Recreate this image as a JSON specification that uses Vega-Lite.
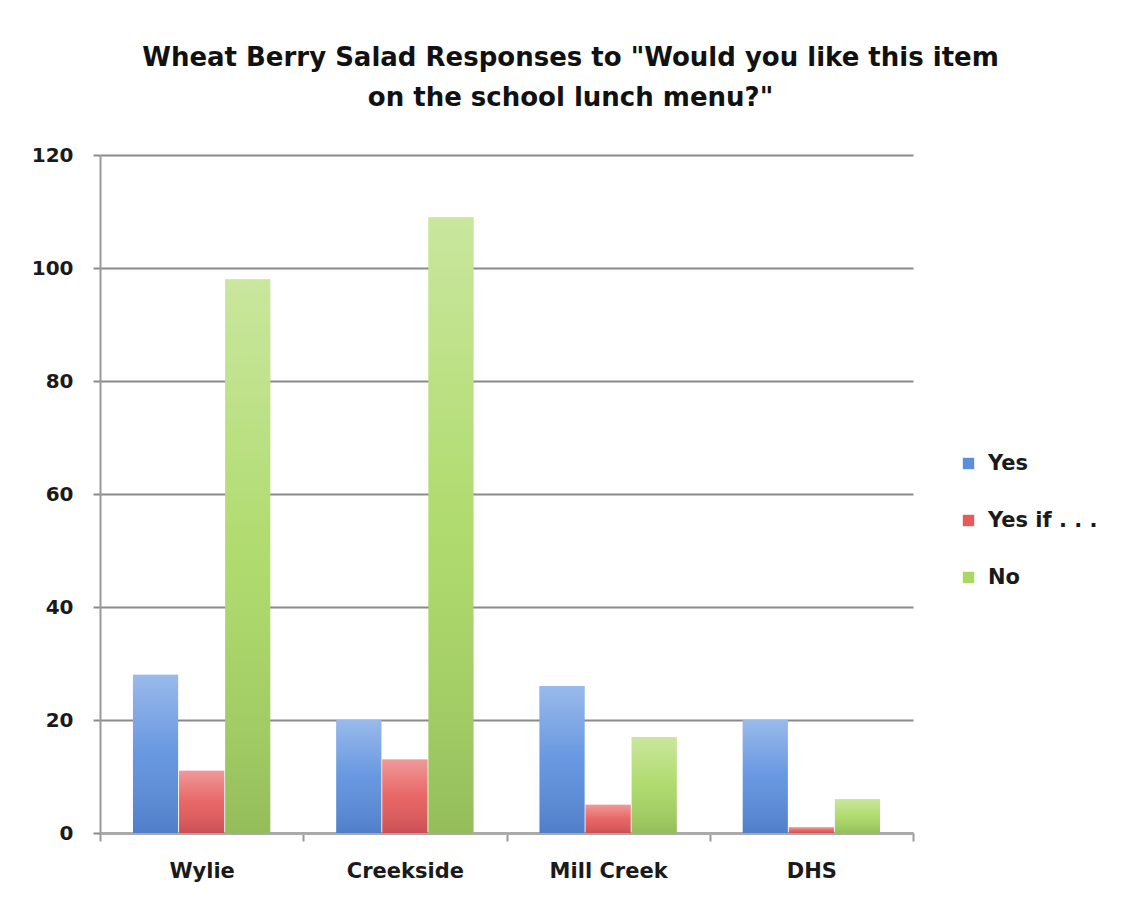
{
  "$schema": "https://vega.github.io/schema/vega-lite/v6.json",
  "width": 813,
  "height": 678,
  "autosize": {"type": "none"},
  "padding": {"left": 100, "top": 155, "right": 217, "bottom": 70},
  "background": "white",
  "title": {
    "text": ["Wheat Berry Salad Responses to \"Would you like this item", "on the school lunch menu?\""],
    "anchor": "middle",
    "dx": 64,
    "offset": 34,
    "font": "DejaVu Sans",
    "fontSize": 26,
    "fontWeight": "bold",
    "color": "#111111",
    "lineHeight": 40
  },
  "data": {
    "values": [
      {"school": "Wylie", "response": "Yes", "count": 28},
      {"school": "Wylie", "response": "Yes if . . .", "count": 11},
      {"school": "Wylie", "response": "No", "count": 98},
      {"school": "Creekside", "response": "Yes", "count": 20},
      {"school": "Creekside", "response": "Yes if . . .", "count": 13},
      {"school": "Creekside", "response": "No", "count": 109},
      {"school": "Mill Creek", "response": "Yes", "count": 26},
      {"school": "Mill Creek", "response": "Yes if . . .", "count": 5},
      {"school": "Mill Creek", "response": "No", "count": 17},
      {"school": "DHS", "response": "Yes", "count": 20},
      {"school": "DHS", "response": "Yes if . . .", "count": 1},
      {"school": "DHS", "response": "No", "count": 6}
    ]
  },
  "encoding": {
    "x": {
      "field": "school",
      "type": "nominal",
      "sort": ["Wylie", "Creekside", "Mill Creek", "DHS"],
      "title": null,
      "scale": {"paddingInner": 0, "paddingOuter": 0},
      "axis": {
        "labelAngle": 0,
        "labelFont": "DejaVu Sans",
        "labelFontSize": 21,
        "labelFontWeight": "bold",
        "labelColor": "#1a1a1a",
        "labelPadding": 19,
        "tickBand": "extent",
        "ticks": true,
        "tickSize": 8,
        "tickColor": "#999999",
        "tickWidth": 2,
        "domainColor": "#aaaaaa",
        "domainWidth": 3,
        "grid": false
      }
    },
    "xOffset": {
      "field": "response",
      "type": "nominal",
      "sort": ["Yes", "Yes if . . .", "No"],
      "scale": {"domain": ["Yes", "Yes if . . .", "No"], "paddingInner": 0.02, "paddingOuter": 0.715}
    },
    "y": {
      "field": "count",
      "type": "quantitative",
      "title": null,
      "scale": {"domain": [0, 120], "nice": false},
      "axis": {
        "values": [0, 20, 40, 60, 80, 100, 120],
        "labelFont": "DejaVu Sans",
        "labelFontSize": 20,
        "labelFontWeight": "bold",
        "labelColor": "#1a1a1a",
        "labelPadding": 20,
        "tickSize": 7,
        "tickColor": "#8a8a8a",
        "tickWidth": 2,
        "domainColor": "#999999",
        "domainWidth": 2,
        "grid": true,
        "gridColor": "#8a8a8a",
        "gridWidth": 2,
        "gridOpacity": 1
      }
    }
  },
  "layer": [
    {
      "mark": {"type": "bar"},
      "encoding": {
        "color": {
          "field": "response",
          "type": "nominal",
          "scale": {"domain": ["Yes", "Yes if . . .", "No"], "range": ["#5b8fde", "#e65a5a", "#a9d862"]},
          "legend": {
            "title": null,
            "orient": "none",
            "legendX": 858,
            "legendY": 298,
            "symbolType": "square",
            "symbolSize": 130,
            "symbolStrokeWidth": 0,
            "labelFont": "DejaVu Sans",
            "labelFontSize": 21,
            "labelFontWeight": "bold",
            "labelColor": "#1a1a1a",
            "labelOffset": 9,
            "rowPadding": 35
          }
        }
      }
    },
    {
      "mark": {
        "type": "bar",
        "fill": {
          "gradient": "linear",
          "x1": 0, "y1": 0, "x2": 0, "y2": 1,
          "stops": [
            {"offset": 0, "color": "rgba(255,255,255,0.38)"},
            {"offset": 0.5, "color": "rgba(255,255,255,0.08)"},
            {"offset": 1, "color": "rgba(0,0,40,0.12)"}
          ]
        }
      },
      "encoding": {}
    }
  ],
  "config": {
    "view": {"stroke": null},
    "font": "DejaVu Sans"
  }
}
